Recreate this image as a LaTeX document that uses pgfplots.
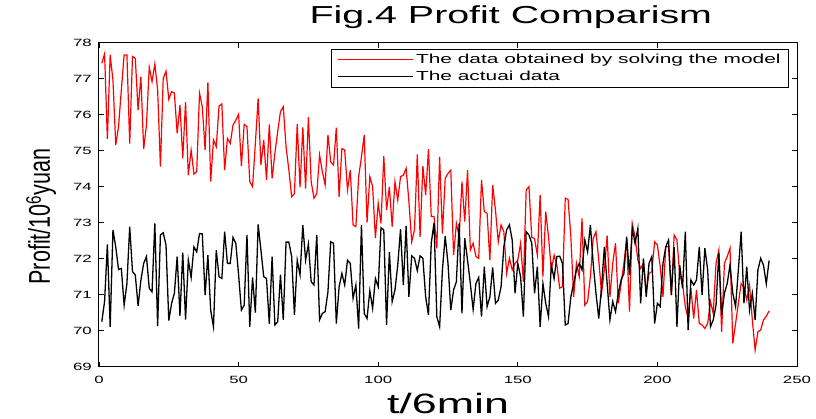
\documentclass[border=0pt]{standalone}
\usepackage{fontspec}
\setmainfont{Liberation Sans}[FakeStretch=1.6]
\usepackage{pgfplots}
\pgfplotsset{compat=1.18}
\usepackage{pgfplotstable}

% t, model result (red), actual data (black)
\pgfplotstableread{
t model actual
1 77.43 70.25
2 77.69 70.81
3 75.32 72.40
4 77.66 70.11
5 76.96 72.80
6 75.16 72.33
7 75.67 71.70
8 76.69 71.73
9 77.66 70.71
10 77.66 71.31
11 75.20 72.89
12 77.62 71.64
13 77.57 71.55
14 76.13 70.69
15 77.06 71.40
16 75.05 71.87
17 75.71 72.06
18 77.32 71.18
19 76.92 71.08
20 77.41 72.98
21 76.69 70.13
22 74.56 72.66
23 77.01 72.72
24 77.21 72.38
25 76.43 70.28
26 76.64 70.76
27 76.60 71.04
28 75.48 72.06
29 76.27 70.41
30 74.79 72.17
31 76.35 70.31
32 74.32 71.96
33 75.02 71.48
34 74.35 72.33
35 74.42 72.19
36 76.60 72.70
37 76.22 72.69
38 75.02 70.99
39 76.90 72.10
40 74.14 70.57
41 75.30 70.11
42 75.11 72.24
43 76.24 71.50
44 76.30 71.45
45 74.46 72.75
46 75.34 71.87
47 75.20 71.87
48 75.71 72.59
49 75.85 72.43
50 76.01 71.55
51 74.57 70.57
52 75.73 70.71
53 75.67 72.66
54 74.14 70.11
55 74.00 71.48
56 75.20 70.50
57 76.45 72.95
58 74.60 72.24
59 75.30 71.50
60 74.19 71.45
61 75.73 70.19
62 74.23 72.06
63 74.93 70.16
64 75.53 70.25
65 76.09 71.56
66 76.22 70.30
67 75.11 72.46
68 74.46 72.46
69 73.72 72.06
70 73.81 70.44
71 75.74 71.96
72 73.98 71.55
73 75.65 72.93
74 73.95 71.96
75 75.93 72.41
76 74.14 71.36
77 73.68 71.27
78 73.81 72.66
79 74.88 70.30
80 74.42 70.48
81 74.05 70.53
82 75.44 71.08
83 74.69 72.47
84 74.60 72.43
85 75.64 70.20
86 73.72 71.22
87 75.06 71.59
88 75.02 71.27
89 73.91 71.96
90 74.46 71.87
91 72.94 70.90
92 72.89 71.27
93 74.28 70.06
94 74.83 72.94
95 75.44 70.48
96 73.00 70.34
97 74.28 71.11
98 74.00 70.62
99 72.57 71.45
100 73.54 71.22
101 72.98 72.86
102 74.85 72.80
103 73.35 70.16
104 74.00 72.19
105 72.89 70.81
106 74.14 71.13
107 73.63 71.82
108 74.28 72.82
109 74.32 71.27
110 74.51 72.91
111 73.58 70.94
112 72.47 72.08
113 72.80 72.01
114 74.90 71.67
115 72.61 72.08
116 74.57 72.01
117 73.77 70.94
118 75.04 70.44
119 73.17 72.43
120 73.17 73.00
121 72.29 70.39
122 74.83 70.11
123 72.70 71.69
124 74.23 72.63
125 74.37 71.87
126 74.46 70.57
127 72.10 71.13
128 72.98 71.36
129 72.61 72.98
130 74.14 70.48
131 73.03 72.57
132 74.46 71.96
133 72.24 71.31
134 72.43 70.59
135 72.06 71.31
136 72.01 71.48
137 74.19 70.39
138 73.31 71.78
139 73.26 70.67
140 71.96 70.94
141 74.05 71.76
142 73.35 70.76
143 72.47 70.85
144 72.94 71.22
145 72.75 72.33
146 71.59 72.80
147 72.01 72.94
148 71.69 72.52
149 71.87 71.04
150 71.96 71.87
151 72.43 71.50
152 71.36 70.39
153 73.91 72.75
154 74.00 72.66
155 72.59 72.43
156 72.56 71.04
157 72.10 71.78
158 73.77 70.11
159 71.50 71.31
160 73.31 70.76
161 72.61 70.39
162 71.69 71.82
163 72.10 71.45
164 71.82 72.06
165 71.18 72.07
166 71.22 71.87
167 73.68 70.16
168 73.65 70.20
169 72.61 70.94
170 70.94 71.31
171 71.87 71.69
172 71.50 71.87
173 73.12 71.69
174 70.71 72.52
175 70.81 72.19
176 71.50 72.94
177 72.56 71.87
178 72.75 71.04
179 71.96 70.34
180 71.04 71.22
181 71.69 72.33
182 72.64 71.31
183 70.94 70.30
184 71.87 70.81
185 72.43 70.53
186 70.76 71.04
187 71.31 71.41
188 71.87 71.59
189 72.52 72.61
190 70.53 71.55
191 72.98 72.84
192 72.61 72.43
193 71.96 72.84
194 71.73 70.76
195 71.87 72.01
196 71.08 70.94
197 71.59 71.87
198 71.64 72.06
199 72.47 70.20
200 72.38 70.76
201 71.78 70.67
202 70.94 71.87
203 72.33 72.33
204 72.33 72.52
205 70.99 70.99
206 72.66 72.33
207 72.52 70.11
208 71.55 71.82
209 71.31 71.18
210 70.67 72.75
211 70.34 70.02
212 71.18 71.41
213 70.34 71.27
214 71.13 71.41
215 70.20 72.33
216 70.16 70.99
217 70.06 72.29
218 70.20 71.69
219 70.81 70.11
220 70.48 70.30
221 71.87 70.71
222 72.24 72.15
223 69.97 70.44
224 71.87 71.04
225 72.06 71.31
226 72.29 71.82
227 69.65 71.04
228 70.20 70.67
229 70.76 71.69
230 71.31 72.75
231 71.22 70.76
232 70.85 71.78
233 71.27 70.57
234 70.30 71.04
235 69.46 70.30
236 69.97 71.69
237 70.02 72.01
238 70.30 71.82
239 70.40 71.30
240 70.55 71.95
}\profit

\begin{document}
\begin{tikzpicture}
\begin{axis}[
  name=ax, scale only axis, width=698pt, height=324pt,
  xmin=0, xmax=250, ymin=69, ymax=78,
  xtick={0,50,...,250}, ytick={69,70,...,78},
  axis line style={line width=1pt},
  major tick length=5pt, tick style={line width=0.8pt, black},
  /pgf/number format/assume math mode=true,
  tick label style={font=\fontsize{10.5}{12}\selectfont},
  xticklabel style={anchor=north, inner sep=0pt, yshift=-9pt},
  yticklabel style={anchor=east, inner sep=0pt, xshift=-7pt},
  title={Fig.4 Profit Comparism},
  title style={at={(axis description cs:0.590,1)}, anchor=base, yshift=13.2pt,
    font=\fontsize{24.6}{28}\selectfont},
  xlabel={t/6min},
  xlabel style={at={(axis description cs:0.5,0)}, anchor=base, yshift=-46.6pt,
    font=\fontsize{28}{32}\selectfont},
  ylabel={Profit/10\textsuperscript{6}yuan},
  every axis y label/.style={at={(axis description cs:-0.0702,0.4636)},
    rotate=90, xscale=0.45, anchor=base, inner sep=0pt,
    font=\fontsize{30}{34}\selectfont},
  legend style={at={(1,1)}, anchor=north east, xshift=-8pt, yshift=-6pt,
    font=\fontsize{13.05}{15}\selectfont, draw=black, line width=0.8pt,
    inner xsep=6pt, inner ysep=3pt, row sep=2pt, cells={anchor=west}},
  legend image code/.code={\draw[#1, line width=0.6pt] (0pt,0pt) -- (65pt,0pt);
    \path (-7pt,0pt) -- (68pt,0pt);},
]
\addplot[red, line width=1.2pt] table[x=t, y=model] {\profit};
\addplot[black, line width=1.3pt] table[x=t, y=actual] {\profit};
\legend{The data obtained by solving the model, The actuai data}
\end{axis}
\pgfresetboundingbox
\path (ax.south west) ++(-99pt,-51.3pt) rectangle ++(816pt,418pt);
\end{tikzpicture}
\end{document}
